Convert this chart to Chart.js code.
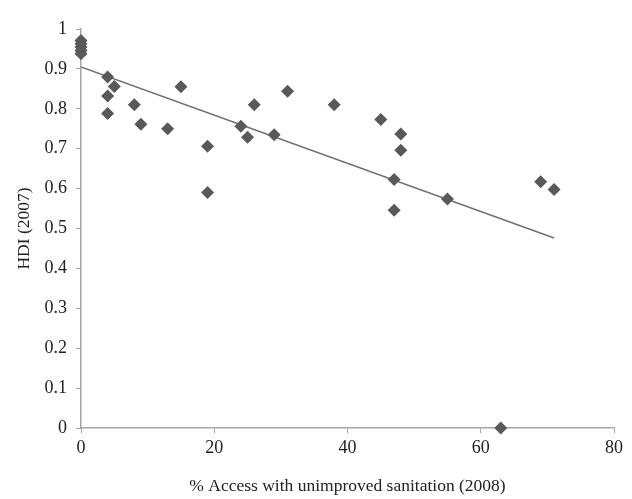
<!DOCTYPE html>
<html>
<head>
<meta charset="utf-8">
<script src="https://cdn.jsdelivr.net/npm/chart.js@4.4.1/dist/chart.umd.min.js"></script>
<style>
html,body{margin:0;padding:0;background:#fff;}
#wrap{width:632px;height:499px;position:relative;}
</style>
</head>
<body>
<div id="wrap"><canvas id="c" width="632" height="499"></canvas></div>
<script>
// % access with unimproved sanitation (2008)
const sanitation = [0, 0, 0, 0, 0, 4, 5, 4, 4, 8, 9, 13, 15, 19, 19, 24, 25, 26, 29, 31, 38, 45, 48, 48, 47, 47, 55, 69, 71, 63];
// HDI (2007)
const hdi = [0.971, 0.963, 0.955, 0.946, 0.938, 0.88, 0.856, 0.832, 0.788, 0.81, 0.761, 0.75, 0.855, 0.706, 0.59, 0.756, 0.729, 0.81, 0.735, 0.844, 0.81, 0.773, 0.737, 0.696, 0.623, 0.546, 0.574, 0.617, 0.598, 0.0];
// linear trend line endpoints
const trendX = [0, 71];
const trendY = [0.905, 0.476];
const xTicks = [0, 20, 40, 60, 80];
const yTicks = [0, 0.1, 0.2, 0.3, 0.4, 0.5, 0.6, 0.7, 0.8, 0.9, 1];

const points = sanitation.map((x, i) => ({x: x, y: hdi[i]}));
const trend = trendX.map((x, i) => ({x: x, y: trendY[i]}));
const axisColor = '#a6a6a6';
const fontFam = '"Liberation Serif", "Times New Roman", serif';

new Chart(document.getElementById('c'), {
  type: 'scatter',
  data: {
    datasets: [
      {
        type: 'line',
        data: trend,
        borderColor: '#707070',
        borderWidth: 1.5,
        pointRadius: 0,
        fill: false,
        order: 2
      },
      {
        data: points,
        pointStyle: 'rectRot',
        pointRadius: 6.5,
        backgroundColor: '#595959',
        borderColor: '#595959',
        borderWidth: 0,
        clip: false,
        order: 1
      }
    ]
  },
  options: {
    responsive: false,
    animation: false,
    layout: {padding: {left: 0, right: 18, top: 29, bottom: 0}},
    plugins: {legend: {display: false}, tooltip: {enabled: false}},
    scales: {
      x: {
        type: 'linear',
        min: 0, max: 80,
        afterBuildTicks: s => { s.ticks = xTicks.map(v => ({value: v})); },
        afterFit: s => { s.height = 71; },
        grid: {display: true, drawOnChartArea: false, drawTicks: true, tickLength: 5, color: axisColor},
        border: {display: true, color: axisColor, width: 1.5},
        ticks: {color: '#222', font: {family: fontFam, size: 18}, padding: 4, maxRotation: 0},
        title: {display: true, text: '% Access with unimproved sanitation (2008)', color: '#222', font: {family: fontFam, size: 17.5}, padding: {top: 0, bottom: 2}}
      },
      y: {
        type: 'linear',
        min: 0, max: 1,
        afterBuildTicks: s => { s.ticks = yTicks.map(v => ({value: v})); },
        afterFit: s => { s.width = 81; },
        grid: {display: true, drawOnChartArea: false, drawTicks: true, tickLength: 5, color: axisColor},
        border: {display: true, color: axisColor, width: 1.5},
        ticks: {color: '#222', font: {family: fontFam, size: 18}, padding: 9, callback: v => String(Math.round(v * 10) / 10)},
        title: {display: true, text: 'HDI (2007)', color: '#222', font: {family: fontFam, size: 17.5}, padding: {top: 14, bottom: 0}}
      }
    }
  }
});
</script>
</body>
</html>
